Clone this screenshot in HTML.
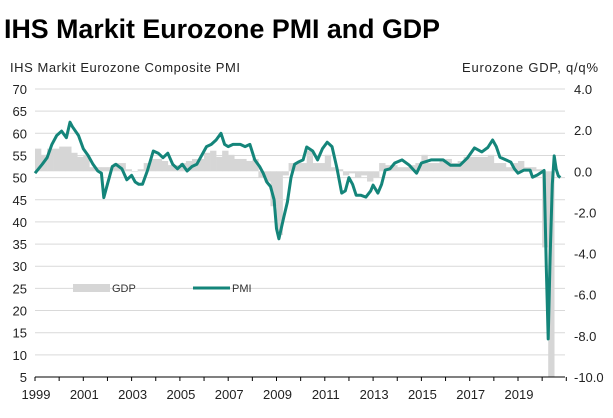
<!DOCTYPE html>
<html><head><meta charset="utf-8"><style>
body{margin:0;background:#fff;font-family:"Liberation Sans",sans-serif}
svg text{font-family:"Liberation Sans",sans-serif}
</style></head><body>
<svg id="c" width="613" height="413">
<text x="4" y="38" font-size="27" font-weight="bold" fill="#000" textLength="436" lengthAdjust="spacingAndGlyphs">IHS Markit Eurozone PMI and GDP</text>
<text x="10" y="72" font-size="13" fill="#222" textLength="230" lengthAdjust="spacing">IHS Markit Eurozone  Composite PMI</text>
<text x="462" y="72" font-size="13" fill="#222" textLength="136" lengthAdjust="spacing">Eurozone GDP, q/q%</text>
<g id="grid"></g><g id="bars"></g><g id="axes"></g><g id="line"></g>
<g>
<rect x="73" y="284" width="37" height="8" fill="#d6d6d6"/>
<text x="112" y="292" font-size="11" fill="#333">GDP</text>
<line x1="193" y1="288" x2="230" y2="288" stroke="#14857a" stroke-width="3"/>
<text x="232" y="292" font-size="11" fill="#333">PMI</text>
</g>
</svg>
<script>
const leftTicks=[70,65,60,55,50,45,40,35,30,25,20,15,10,5];
const rightTicks=[4.0,2.0,0.0,-2.0,-4.0,-6.0,-8.0,-10.0];
const yearLabels=[1999,2001,2003,2005,2007,2009,2011,2013,2015,2017,2019];
const pmiDates=[1999.0,1999.3,1999.5,1999.7,1999.9,2000.1,2000.3,2000.45,2000.55,2000.8,2001.0,2001.2,2001.4,2001.6,2001.75,2001.85,2002.0,2002.2,2002.35,2002.6,2002.8,2003.0,2003.15,2003.3,2003.45,2003.65,2003.9,2004.1,2004.3,2004.5,2004.7,2004.9,2005.1,2005.3,2005.5,2005.7,2005.9,2006.1,2006.3,2006.5,2006.7,2006.85,2007.0,2007.2,2007.5,2007.7,2007.9,2008.1,2008.3,2008.45,2008.6,2008.75,2008.9,2009.0,2009.1,2009.3,2009.45,2009.6,2009.75,2009.9,2010.1,2010.25,2010.5,2010.7,2010.9,2011.1,2011.3,2011.5,2011.7,2011.85,2012.0,2012.15,2012.3,2012.5,2012.7,2012.9,2013.0,2013.2,2013.35,2013.5,2013.7,2013.9,2014.2,2014.5,2014.8,2015.0,2015.4,2015.9,2016.2,2016.6,2016.9,2017.2,2017.5,2017.75,2017.95,2018.1,2018.25,2018.5,2018.7,2018.85,2019.0,2019.25,2019.5,2019.6,2019.8,2020.0,2020.08,2020.17,2020.25,2020.33,2020.42,2020.5,2020.58,2020.67,2020.75];
const pmiValues=[51,53,54.5,57.5,59.5,60.5,59,62.5,61.5,59.5,56.5,55,53,51.5,51,45.5,48.5,52.5,53,52,49.5,50.5,49,48.5,48.5,51.5,56,55.5,54.5,55.5,53,52,53,51.5,52.5,53,55,57,57.5,58.5,60,57.5,57,57.5,57.5,57,57.5,54,52.5,51,49,48,45,38.5,36.2,41,44.5,50,53,53.5,54,56.9,56,54,56.5,58,57,52.2,46.5,47,50,48.5,46,46,45.6,47,48.3,46.5,48.5,51.7,52,53.3,54,52.8,51,53.3,54,54,52.8,52.8,54.4,56.7,55.8,56.8,58.5,57,54.6,54,53.5,52,51,51.7,51.7,50.1,50.6,51.3,51.6,29.7,13.6,31.9,48.5,54.9,51.9,50.4,50];
const gdpQuarters=[1999.0,1999.25,1999.5,1999.75,2000.0,2000.25,2000.5,2000.75,2001.0,2001.25,2001.5,2001.75,2002.0,2002.25,2002.5,2002.75,2003.0,2003.25,2003.5,2003.75,2004.0,2004.25,2004.5,2004.75,2005.0,2005.25,2005.5,2005.75,2006.0,2006.25,2006.5,2006.75,2007.0,2007.25,2007.5,2007.75,2008.0,2008.25,2008.5,2008.75,2009.0,2009.25,2009.5,2009.75,2010.0,2010.25,2010.5,2010.75,2011.0,2011.25,2011.5,2011.75,2012.0,2012.25,2012.5,2012.75,2013.0,2013.25,2013.5,2013.75,2014.0,2014.25,2014.5,2014.75,2015.0,2015.25,2015.5,2015.75,2016.0,2016.25,2016.5,2016.75,2017.0,2017.25,2017.5,2017.75,2018.0,2018.25,2018.5,2018.75,2019.0,2019.25,2019.5,2019.75,2020.0,2020.25];
const gdpValues=[1.1,0.8,1.1,1.1,1.2,1.2,0.9,0.7,0.8,0.2,0.2,0.2,0.2,0.4,0.4,0.1,0.0,0.1,0.4,0.6,0.6,0.5,0.3,0.3,0.4,0.5,0.6,0.6,0.9,1.0,0.7,1.0,0.8,0.6,0.6,0.5,0.6,-0.3,-0.5,-1.7,-3.1,-0.2,0.4,0.4,0.4,1.0,0.4,0.4,0.8,0.2,0.1,-0.2,-0.1,-0.3,-0.2,-0.5,-0.3,0.4,0.3,0.3,0.2,0.2,0.3,0.4,0.8,0.4,0.4,0.5,0.6,0.4,0.5,0.7,0.7,0.7,0.7,0.8,0.4,0.4,0.2,0.4,0.5,0.2,0.2,0.1,-3.7,-11.8];
const NS="http://www.w3.org/2000/svg";
const X0=35,X1=565,Y0=89,Y1=377;
const x=t=>X0+(t-1999)*24.15;
const yL=v=>Y0+(70-v)*(Y1-Y0)/65;
const yR=v=>Y0+(4-v)*(Y1-Y0)/14;
function mk(tag,attrs,parent){const e=document.createElementNS(NS,tag);for(const k in attrs)e.setAttribute(k,attrs[k]);parent.appendChild(e);return e;}
const grid=document.getElementById('grid'),axes=document.getElementById('axes'),bars=document.getElementById('bars'),line=document.getElementById('line');
leftTicks.forEach(v=>{
  if(v!==5){const g=mk('line',{x1:X0,x2:X1,y1:yL(v),y2:yL(v),stroke:'#d9d9d9','stroke-width':1},grid);
  
  }
  const t=mk('text',{x:27,y:yL(v)+5,'font-size':13,fill:'#222','text-anchor':'end'},axes);t.textContent=v;
  
  
});
rightTicks.forEach(v=>{
  const t=mk('text',{x:574,y:yR(v)+5,'font-size':13,fill:'#222'},axes);t.textContent=(v<0?'-':'')+Math.abs(v).toFixed(1);
  
  
});
gdpQuarters.forEach((q,i)=>{
  const v=Math.max(gdpValues[i],-10);const y0=yR(0),y1=yR(v);
  const r=mk('rect',{x:x(q),width:24.15/4+0.3,y:Math.min(y0,y1),height:Math.max(Math.abs(y1-y0),0.5),fill:'#d6d6d6'},bars);
  
  
});
const ax=mk('line',{x1:X0,x2:X1,y1:Y1,y2:Y1,stroke:'#000','stroke-width':1},axes);


for(let yr=1999;yr<=2021;yr++){const tk=mk('line',{x1:x(yr),x2:x(yr),y1:Y1,y2:Y1+4,stroke:'#000'},axes);

}
yearLabels.forEach(yr=>{const t=mk('text',{x:x(yr)+1,y:399,'font-size':13,fill:'#222','text-anchor':'middle'},axes);t.textContent=yr;

});
const p=mk('polyline',{points:pmiDates.map((d,i)=>x(d).toFixed(1)+','+yL(pmiValues[i]).toFixed(1)).join(' '),fill:'none',stroke:'#14857a','stroke-width':3,'stroke-linejoin':'round'},line);


</script>
</body></html>
